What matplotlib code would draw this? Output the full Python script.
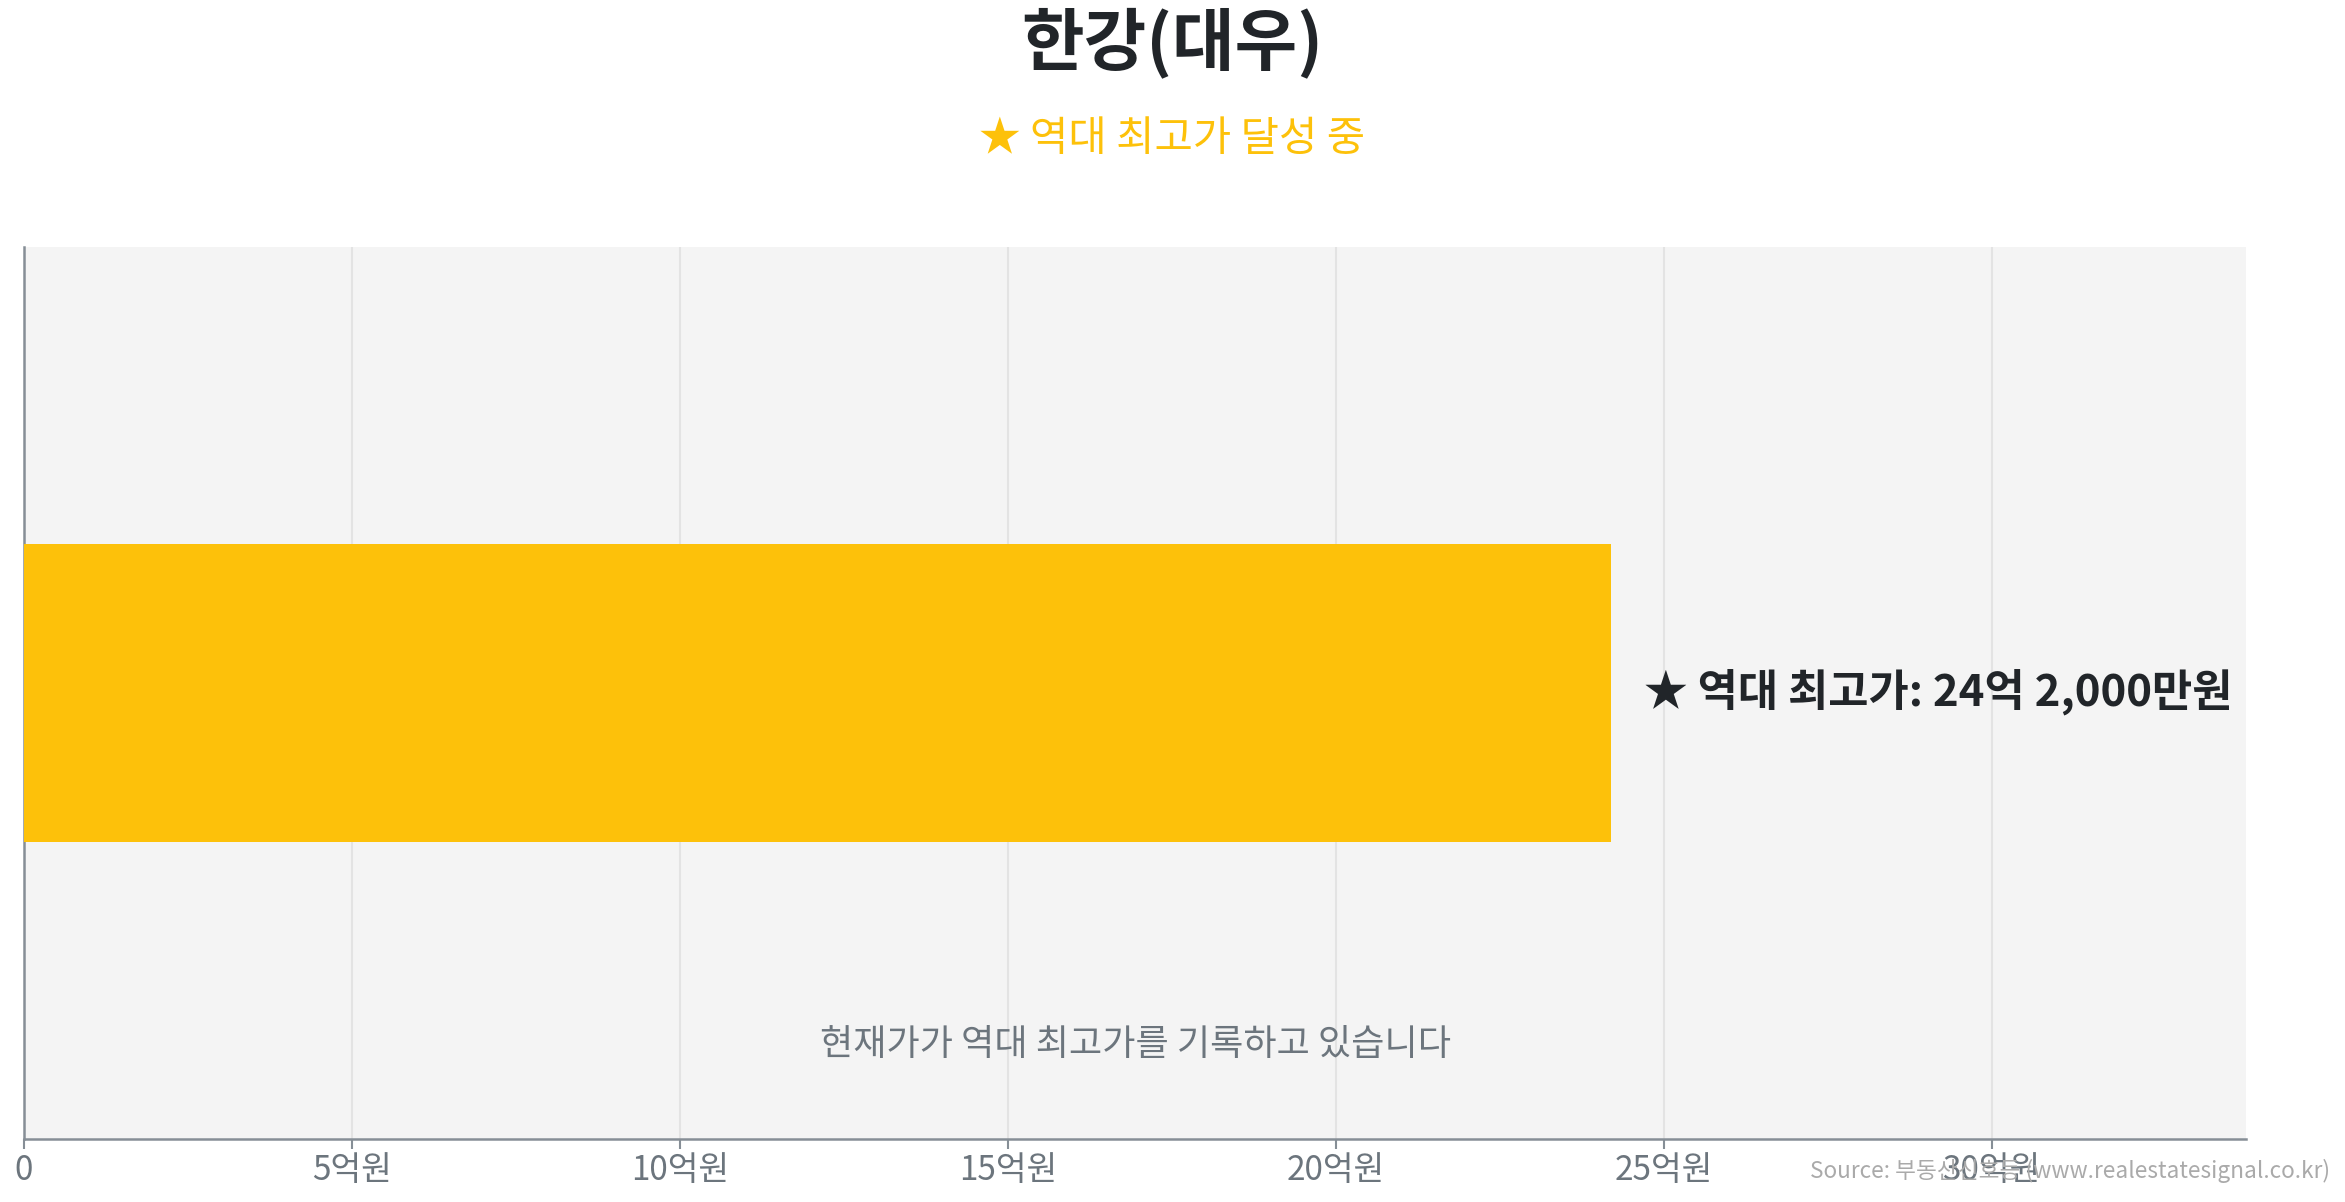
import matplotlib
matplotlib.use("Agg")
import matplotlib.pyplot as plt

plt.rcParams['font.family'] = ['Noto Sans CJK KR', 'DejaVu Sans']

# data
categories = ["한강(대우)"]
record_high = [24.2]  # 억원
tick_values = [0, 5, 10, 15, 20, 25, 30]
tick_labels = ["0", "5억원", "10억원", "15억원", "20억원", "25억원", "30억원"]
title = "한강(대우)"
subtitle = "★ 역대 최고가 달성 중"
bar_label = "★ 역대 최고가: 24억 2,000만원"
note = "현재가가 역대 최고가를 기록하고 있습니다"
source = "Source: 부동산신호등 (www.realestatesignal.co.kr)"

W, H, DPI = 2345, 1202, 100
fig = plt.figure(figsize=(W / DPI, H / DPI), dpi=DPI)
ax = fig.add_axes([24 / W, 63 / H, (2246 - 24) / W, (1139 - 247) / H])

ax.set_facecolor('#f4f4f4')
ax.barh([0], record_high, height=1.0, color='#fdc10a', zorder=3)
ax.set_xlim(0, record_high[0] * 1.4)
ax.set_ylim(-1.5, 1.5)
ax.set_yticks([])
ax.set_xticks(tick_values)
ax.set_xticklabels(tick_labels, fontsize=24, color='#6c757d')
ax.tick_params(axis='x', length=7, width=1.5, color='#868e96', pad=3)
ax.grid(axis='x', color='#e3e3e3', linewidth=1.5, zorder=0)
ax.set_axisbelow(True)
for s in ['top', 'right']:
    ax.spines[s].set_visible(False)
for s in ['left', 'bottom']:
    ax.spines[s].set_color('#868e96')
    ax.spines[s].set_linewidth(1.8)

ax.annotate(bar_label, xy=(record_high[0], 0), xytext=(33, 0),
            textcoords='offset pixels', ha='left', va='center',
            fontsize=31.5, fontweight='bold', color='#212529')
ax.text(0.5, 0.105, note, transform=ax.transAxes, ha='center', va='center',
        fontsize=26, color='#6c757d')

fig.text(0.5, 1 - 44 / H, title, ha='center', va='center',
         fontsize=49, fontweight='bold', color='#212529')
fig.text(0.5, 1 - 140 / H, subtitle, ha='center', va='center',
         fontsize=30, color='#fdc10a')
fig.text(2330 / W, 1 - 1171 / H, source, ha='right', va='center',
         fontsize=16.3, color='#aaaaaa')

fig.savefig('out.png', dpi=DPI)
